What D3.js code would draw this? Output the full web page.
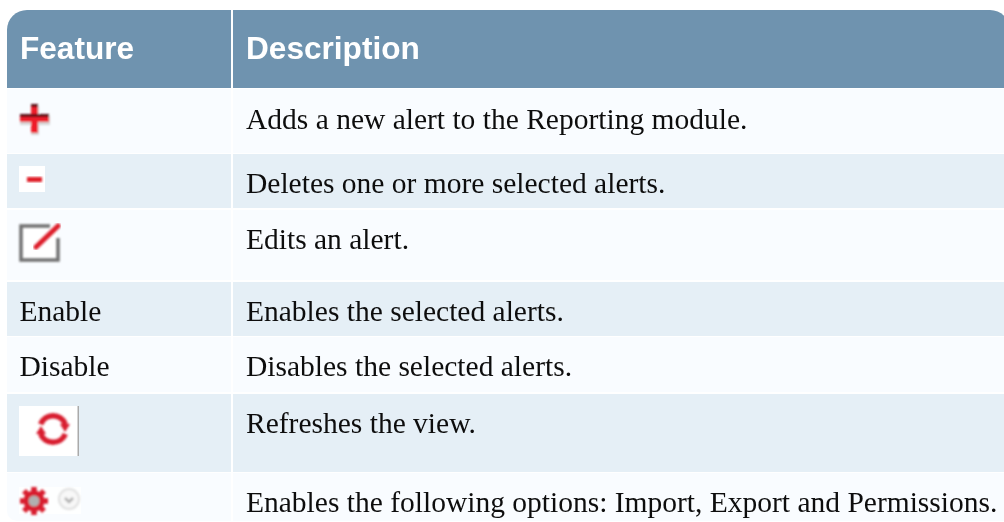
<!DOCTYPE html>
<html>
<head>
<meta charset="utf-8">
<script src="https://cdn.jsdelivr.net/npm/d3@7"></script>
<style>
  html, body { margin: 0; padding: 0; background: #fff; overflow: hidden; }
  svg { display: block; }
  .head { font-family: "Liberation Sans", Arial, sans-serif; font-weight: 700; font-size: 31.6px; fill: #fff; }
  .cell { font-family: "Liberation Serif", "Times New Roman", serif; font-size: 29.5px; fill: #111; }
</style>
</head>
<body>
<svg id="table" width="1004" height="522"></svg>
<script>
// ------------------ Data ------------------
const headers = ["Feature", "Description"];
const features = ["plus", "minus", "edit", "Enable", "Disable", "refresh", "gear"];
const descriptions = [
  "Adds a new alert to the Reporting module.",
  "Deletes one or more selected alerts.",
  "Edits an alert.",
  "Enables the selected alerts.",
  "Disables the selected alerts.",
  "Refreshes the view.",
  "Enables the following options: Import, Export and Permissions."
];
// row edges
const rowTops = [89, 154, 210, 282, 337, 394, 473];
const rowBottoms = [153, 208, 280, 336, 392, 472, 521];

const W = 1004;
const left = 7, headTop = 10, headBottom = 88;
const colEnd = 231, col2 = 233;
const textDrop = 38.5; // baseline below row top
const svg = d3.select('#table');

// soft look of the scaled up icons and text
const defs = svg.append('defs');
defs.append('filter').attr('id', 'soft').append('feGaussianBlur').attr('stdDeviation', 0.8);
defs.append('filter').attr('id', 'softText').append('feGaussianBlur').attr('stdDeviation', 0.3);

// ------------------ Header ------------------
const r = 20;
svg.append('path')
  .attr('fill', '#6f93af')
  .attr('d', `M${left},${headBottom}V${headTop + r}A${r},${r} 0 0 1 ${left + r},${headTop}H${W + 6 - r}A${r},${r} 0 0 1 ${W + 6},${headTop + r}V${headBottom}Z`);
svg.append('rect').attr('x', colEnd).attr('y', headTop).attr('width', col2 - colEnd).attr('height', headBottom - headTop).attr('fill', '#fff');

svg.selectAll('text.head').data(headers).join('text')
  .attr('class', 'head')
  .attr('filter', 'url(#softText)')
  .attr('x', (d, i) => i === 0 ? 20 : 246)
  .attr('y', 59)
  .text(d => d);

// ------------------ Rows ------------------
const rows = svg.selectAll('g.row').data(features).join('g')
  .attr('class', 'row')
  .attr('transform', (d, i) => `translate(0,${rowTops[i]})`);

const rowFill = (d, i) => i % 2 ? '#e5eff6' : '#f9fcff';
const rowH = i => rowBottoms[i] - rowTops[i];

rows.append('path')
  .attr('fill', rowFill)
  .attr('d', (d, i) => {
    const h = rowH(i);
    if (i === features.length - 1) return `M${left},0H${colEnd}V${h}H${left + 10}A10,10 0 0 1 ${left},${h - 10}Z`;
    return `M${left},0H${colEnd}V${h}H${left}Z`;
  });
rows.append('rect')
  .attr('x', col2).attr('y', 0).attr('width', W - col2)
  .attr('height', (d, i) => rowH(i))
  .attr('fill', rowFill);

rows.append('text')
  .attr('class', 'cell')
  .attr('filter', 'url(#softText)')
  .attr('x', 246)
  .attr('y', (d, i) => i === 0 ? textDrop + 1 : textDrop) // first row sits a bit lower
  .text((d, i) => descriptions[i]);

rows.filter(d => d === 'Enable' || d === 'Disable').append('text')
  .attr('class', 'cell')
  .attr('filter', 'url(#softText)')
  .attr('x', 19.5)
  .attr('y', textDrop)
  .text(d => d);

// ------------------ Icons ------------------
const icons = {
  plus(g) {
    const soft = g.append('g').attr('filter', 'url(#soft)');
    soft.append('path').attr('fill', '#d5d5d5')
      .attr('d', 'M31,17h8v10h11v9h-11v10h-8v-10h-11v-9h11z');
    soft.append('path').attr('fill', '#ee1c2c')
      .attr('d', 'M31,15h7v10h11v8h-11v11h-7v-11h-11v-8h11z');
    soft.append('rect').attr('x', 31).attr('y', 15).attr('width', 7).attr('height', 3).attr('fill', '#5a0a14');
    soft.append('rect').attr('x', 20).attr('y', 25).attr('width', 29).attr('height', 3).attr('fill', '#5a0a14');
  },
  minus(g) {
    g.append('rect').attr('x', 19).attr('y', 12).attr('width', 26).attr('height', 26).attr('fill', '#fff');
    g.append('rect').attr('x', 27).attr('y', 23).attr('width', 15).attr('height', 5).attr('fill', '#e01a28').attr('filter', 'url(#soft)');
  },
  edit(g) {
    g.append('rect').attr('x', 22).attr('y', 16).attr('width', 35).attr('height', 34).attr('fill', '#fff');
    g.append('path').attr('fill', 'none').attr('stroke', '#707070').attr('stroke-width', 3.5).attr('filter', 'url(#soft)')
      .attr('d', 'M50,16H21V50H58V28');
    g.append('path').attr('stroke', '#dd1c2a').attr('stroke-width', 5).attr('stroke-linecap', 'round').attr('filter', 'url(#soft)')
      .attr('d', 'M36,37L58,16');
  },
  refresh(g) {
    g.append('rect').attr('x', 19).attr('y', 12).attr('width', 59).attr('height', 50).attr('fill', '#fff');
    g.append('rect').attr('x', 77.5).attr('y', 12).attr('width', 1.5).attr('height', 50).attr('fill', '#aaa');
    const arc = d3.arc().innerRadius(10.5).outerRadius(16);
    const soft = g.append('g').attr('filter', 'url(#soft)').attr('fill', '#d81e2e');
    [[-1.2, 1.2], [1.95, 4.35]].forEach(([a, b]) => {
      soft.append('path').attr('transform', 'translate(53,35)')
        .attr('d', arc({ startAngle: a, endAngle: b }));
    });
    soft.append('path').attr('d', 'M60,30h10l-5,8z');
    soft.append('path').attr('d', 'M36,40h10l-5,-8z');
  },
  gear(g) {
    g.append('rect').attr('x', 19).attr('y', 14).attr('width', 62).attr('height', 27).attr('fill', '#fff').attr('opacity', 0.8);
    const cx = 34, cy = 28;
    const soft = g.append('g').attr('filter', 'url(#soft)');
    d3.range(8).forEach(i => {
      soft.append('rect').attr('x', cx - 2.5).attr('y', cy - 14).attr('width', 5).attr('height', 28)
        .attr('fill', '#d81e2e')
        .attr('transform', `rotate(${i * 45} ${cx} ${cy})`);
    });
    soft.append('circle').attr('cx', cx).attr('cy', cy).attr('r', 10.5).attr('fill', '#d81e2e');
    soft.append('circle').attr('cx', cx).attr('cy', cy).attr('r', 5.5).attr('fill', '#b0b0b0');
    soft.append('circle').attr('cx', 69).attr('cy', 26).attr('r', 10).attr('fill', '#f8f8f8').attr('stroke', '#e0e0e0').attr('stroke-width', 2);
    soft.append('path').attr('fill', 'none').attr('stroke', '#b0b0b0').attr('stroke-width', 2.5).attr('d', 'M65,25l4,4l4,-4');
  }
};
rows.each(function (d) {
  if (icons[d]) icons[d](d3.select(this).append('g'));
});
</script>
</body>
</html>
